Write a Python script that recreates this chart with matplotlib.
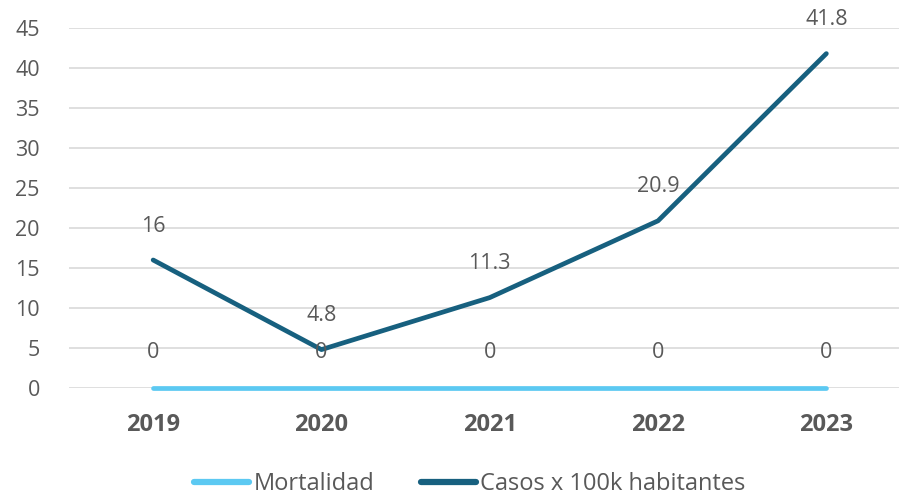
import matplotlib
matplotlib.use("Agg")
import matplotlib.pyplot as plt
from matplotlib.lines import Line2D

years = ["2019", "2020", "2021", "2022", "2023"]
mortalidad = [0, 0, 0, 0, 0]
casos = [16, 4.8, 11.3, 20.9, 41.8]
casos_labels = ["16", "4.8", "11.3", "20.9", "41.8"]
mort_labels = ["0", "0", "0", "0", "0"]
yticks = [0, 5, 10, 15, 20, 25, 30, 35, 40, 45]

plt.rcParams['font.family'] = ['Open Sans', 'DejaVu Sans']
text_color = "#595959"
light = "#5CC9F2"
dark = "#17607F"

fig = plt.figure(figsize=(8.99, 4.95), dpi=100)
W, H = 899, 495
left = 69 / W
right_px = 69 + 5 * 168.3
ax = fig.add_axes([left, (H - 388) / H, (right_px - 69) / W, (388 - 28) / H])

x = list(range(len(years)))
ax.plot(x, mortalidad, color=light, lw=3.4, solid_capstyle='round', zorder=3, clip_on=False)
ax.plot(x, casos, color=dark, lw=3.4, solid_capstyle='round', solid_joinstyle='round', zorder=4, clip_on=False)

for xi, v, lab in zip(x, casos, casos_labels):
    ax.annotate(lab, (xi, v), xytext=(0, 34), textcoords='offset pixels',
                ha='center', va='center', fontsize=15.5, color=text_color, zorder=5)
for xi, v, lab in zip(x, mortalidad, mort_labels):
    ax.annotate(lab, (xi, v), xytext=(0, 35), textcoords='offset pixels',
                ha='center', va='center', fontsize=15.5, color=text_color, zorder=5)

ax.set_xlim(-0.5, 4.5)
ax.set_ylim(0, 45)
ax.set_yticks(yticks)
ax.set_yticklabels([str(t) for t in yticks], fontsize=15.5, color=text_color)
ax.set_xticks(x)
ax.set_xticklabels(years, fontsize=17, fontweight='bold', color=text_color)
ax.tick_params(axis='both', length=0)
ax.tick_params(axis='y', pad=21)
ax.tick_params(axis='x', pad=18)
ax.grid(axis='y', color='#D9D9D9', lw=1.2)
ax.set_axisbelow(True)
for s in ax.spines.values():
    s.set_visible(False)

handles = [Line2D([], [], color=light, lw=4.5, solid_capstyle='round'),
           Line2D([], [], color=dark, lw=4.5, solid_capstyle='round')]
leg = fig.legend(handles, ["Mortalidad", "Casos x 100k habitantes"],
                 loc='center', bbox_to_anchor=(470 / W, 1 - 484 / H),
                 ncol=2, frameon=False, fontsize=17, handlelength=2.3,
                 handletextpad=0.2, columnspacing=2.0)
for t in leg.get_texts():
    t.set_color(text_color)

fig.savefig("out.png", dpi=100)
